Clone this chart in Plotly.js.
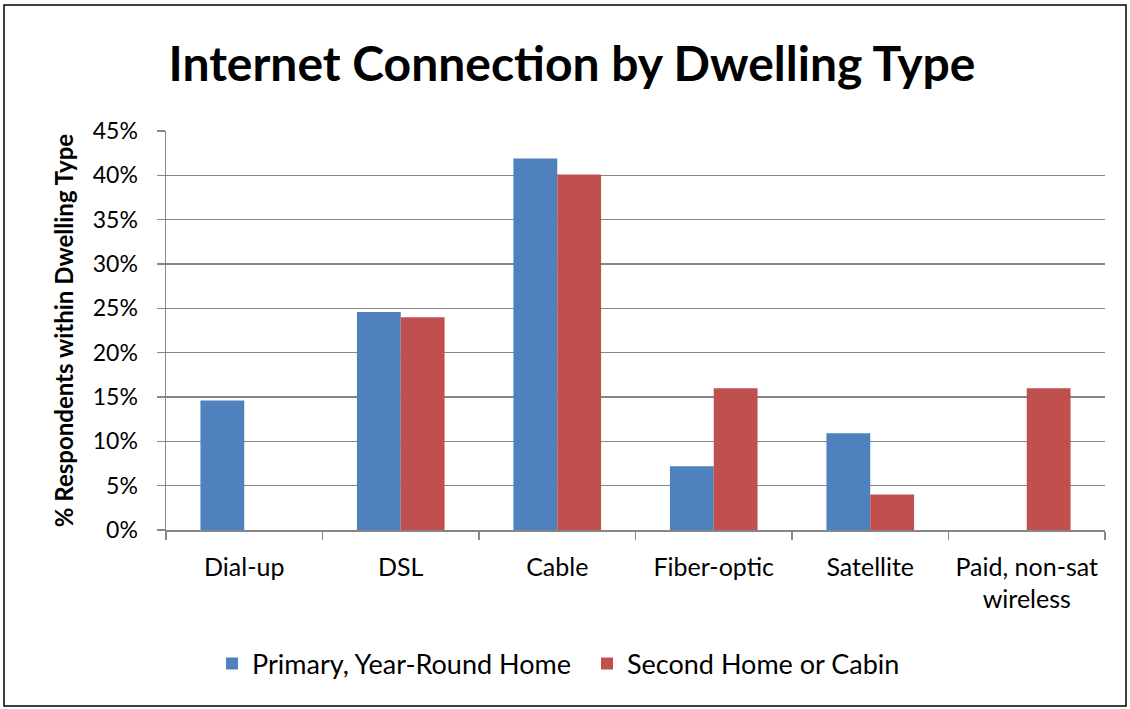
<!DOCTYPE html>
<html>
<head>
<meta charset="utf-8">
<script src="https://cdn.plot.ly/plotly-3.0.1.min.js"></script>
<style>html,body{margin:0;padding:0;background:#fff;}#chart{width:1130px;height:709px;}</style>
</head>
<body>
<div id="chart"></div>
<script>
var categories = ["Dial-up", "DSL", "Cable", "Fiber-optic", "Satellite", "Paid, non-sat<br>wireless"];
var primaryHome = [0.146, 0.246, 0.419, 0.072, 0.109, 0];
var secondHome = [0, 0.240, 0.401, 0.160, 0.040, 0.160];
var seriesNames = ["Primary, Year-Round Home", "Second Home or Cabin"];
var yTicks = [0, 0.05, 0.10, 0.15, 0.20, 0.25, 0.30, 0.35, 0.40, 0.45];

var W = 1130, H = 709, L = 166, R = 25, T = 131, B = 179;
var pw = W - L - R, ph = H - T - B;
function px(x) { return (x - L) / pw; }
function py(y) { return (H - B - y) / ph; }

var font = "Lato, Carlito, 'Open Sans', sans-serif";
var data = [
  {type: "bar", name: seriesNames[0], x: categories, y: primaryHome, marker: {color: "#4F81BD", line: {width: 0}}, hoverinfo: "y"},
  {type: "bar", name: seriesNames[1], x: categories, y: secondHome, marker: {color: "#C0504D", line: {width: 0}}, hoverinfo: "y"}
];
var layout = {
  width: W, height: H,
  margin: {l: L, r: R, t: T, b: B, pad: 0},
  paper_bgcolor: "#fff", plot_bgcolor: "#fff",
  barmode: "group", bargap: 0.44, bargroupgap: 0,
  title: {text: "<b>Internet Connection by Dwelling Type</b>", x: px(572), xref: "paper", xanchor: "center", y: 1 - 64 / H, yanchor: "middle", font: {family: font, size: 48, color: "#000"}},
  font: {family: font, color: "#000"},
  xaxis: {
    type: "category", tickson: "boundaries", ticks: "outside", ticklen: 8, tickcolor: "#868686", tickwidth: 1.3,
    showline: true, linecolor: "#868686", linewidth: 1.5, showgrid: false, ticklabelstandoff: 14,
    tickfont: {family: font, size: 25, color: "#000"}, automargin: false
  },
  yaxis: {
    range: [0, 0.45], tickvals: yTicks, tickformat: ".0%", ticks: "outside", ticklen: 8, tickcolor: "#868686", tickwidth: 1.3,
    showline: true, linecolor: "#868686", linewidth: 1.5, showgrid: true, gridcolor: "#868686", gridwidth: 1.3, zeroline: false,
    ticklabelstandoff: 14,
    tickfont: {family: font, size: 23, color: "#000"}, automargin: false,
    title: {text: "<b>% Respondents within Dwelling Type</b>", standoff: 12, font: {family: font, size: 24, color: "#000"}}
  },
  legend: {orientation: "h", x: px(587), xanchor: "center", y: py(664), yanchor: "middle", font: {family: font, size: 27, color: "#000"}, itemwidth: 30, entrywidth: 330, entrywidthmode: "pixels", traceorder: "normal"},
  showlegend: true,
  shapes: [
    {type: "rect", xref: "paper", yref: "paper", x0: px(4), x1: px(1126), y0: py(5), y1: py(706), line: {color: "#000", width: 1.5}, fillcolor: "rgba(0,0,0,0)", layer: "below"}
  ]
};
Plotly.newPlot("chart", data, layout, {displayModeBar: false, staticPlot: true});
</script>
</body>
</html>
